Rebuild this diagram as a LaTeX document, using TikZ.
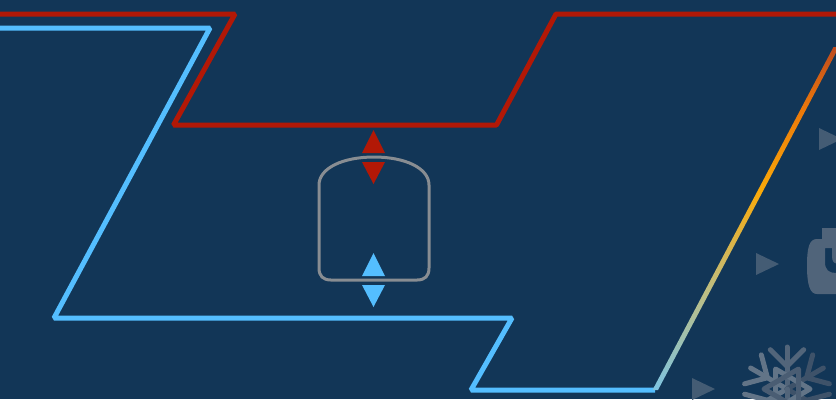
\documentclass[tikz,border=0pt]{standalone}
\usepackage{xcolor}
\usepackage{tikz}
\definecolor{fond}{RGB}{18,54,87}
\definecolor{rouge}{RGB}{178,24,6}
\definecolor{bleu}{RGB}{84,190,255}
\definecolor{gristik}{RGB}{136,141,146}
\definecolor{icone}{RGB}{68,92,116}
\definecolor{tube}{RGB}{80,100,122}
\definecolor{flocg}{RGB}{98,116,135}
\definecolor{flocd}{RGB}{58,78,102}
\definecolor{chaud}{RGB}{190,75,30}
\definecolor{orange1}{RGB}{235,120,10}
\definecolor{orange2}{RGB}{250,170,10}
\definecolor{sable}{RGB}{190,190,130}
\definecolor{froid}{RGB}{125,195,225}
\pgfdeclareverticalshading{ligne}{100bp}{color(0bp)=(froid);color(25bp)=(froid);color(39.5bp)=(sable);color(54bp)=(orange2);color(66bp)=(orange1);color(75bp)=(chaud);color(100bp)=(chaud)}
\begin{document}
\begin{tikzpicture}[x=0.01cm,y=-0.01cm,
    trait/.style={line width=0.05cm,line join=bevel},
    branche/.style={line width=0.05cm,line cap=round,line join=round}]
      \useasboundingbox (0,0) rectangle (836,399);
      \clip (0,0) rectangle (836,399);
      \fill[fond](0,0) rectangle (836,399);
      % contours
      \draw[rouge,trait](-4,14)--(235,14)--(173.5,125)--(496.5,125)--(556,14)--(840,14);
      \draw[bleu,trait](-4,28)--(210,28)--(54,318)--(512,318)--(471,390)--(655,390);
      \shade[shading=ligne](839,47)--(833.5,47)--(652.5,390)--(658,390)--cycle;
      % poche
      \draw[gristik,line width=0.03cm](319,185) .. controls (319,168) and (343,157) .. (374,157)
        .. controls (405,157) and (429,168) .. (429,185)--(429,268)
        .. controls (429,276) and (425,280) .. (417,280)--(331,280)
        .. controls (323,280) and (319,276) .. (319,268)--cycle;
      % fleches
      \fill[rouge](373.5,130)--(362,153)--(385,153)--cycle;
      \fill[rouge](373.5,184)--(362,162)--(385,162)--cycle;
      \fill[bleu](373.5,253)--(362,276)--(385,276)--cycle;
      \fill[bleu](373.5,307)--(362,285)--(385,285)--cycle;
      % icones
      \foreach \xa/\ya in {819/139,756/264,692/389}
        \fill[icone](\xa,\ya-11)--(\xa+23,\ya)--(\xa,\ya+11)--cycle;
      \fill[tube,even odd rule](822,228)--(840,228)--(840,294)--(817,294)
        .. controls (810,294) and (807,285) .. (807,266)
        .. controls (807,248) and (809,239) .. (817,239)--(822,239)--cycle
        (825,248)--(825,262) .. controls (825,270) and (829,273) .. (836,273)--(840,273)--(840,264)
        .. controls (834,264) and (832,262) .. (832,256)--(832,248)--cycle;
      % flocon
      \foreach \ang/\mel in {90/60,150/100,210/100,30/10,330/10,270/60}{
        \begin{scope}[shift={(787,389)},rotate=\ang-90]
          \draw[branche,color=flocg!\mel!flocd](0,0)--(0,-42);
          \draw[branche,color=flocg!\mel!flocd](-16.7,-39.3)--(0,-22.6)--(16.7,-39.3);
        \end{scope}
      }
      \draw[branche,flocg](775.5,369)--(810,389)--(775.5,409)--cycle;
      \draw[branche,flocg!40!flocd](764,389)--(798.5,369)--(798.5,409)--cycle;
\end{tikzpicture}
\end{document}
